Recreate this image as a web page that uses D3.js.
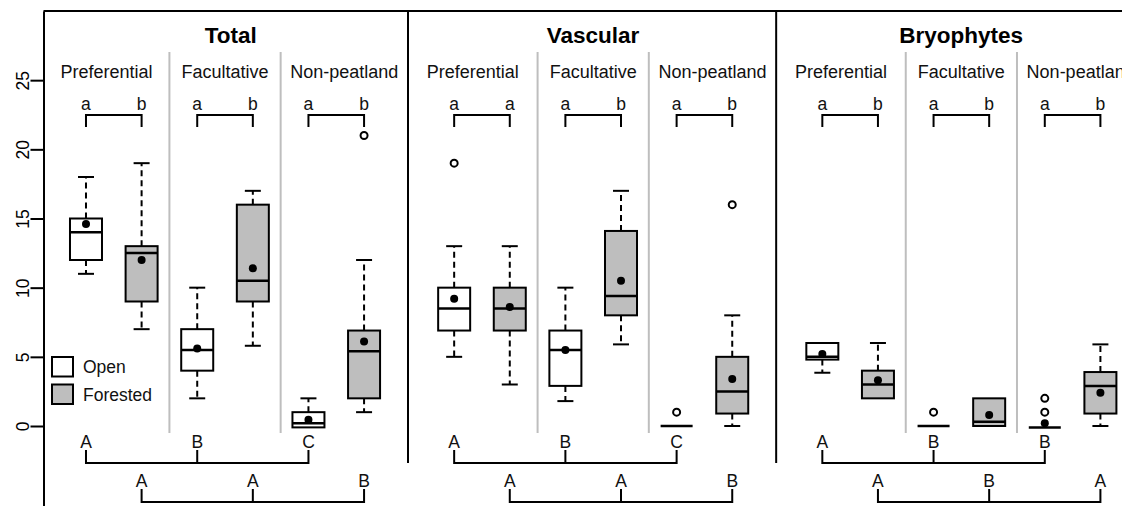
<!DOCTYPE html>
<html>
<head>
<meta charset="utf-8">
<script src="https://cdn.jsdelivr.net/npm/d3@7"></script>
<style>
body { margin: 0; background: #fff; }
svg { display: block; font-family: 'Liberation Sans', Arial, sans-serif; }
</style>
</head>
<body>
<svg id="chart"></svg>
<script>
var width = 1122;
var height = 506;

var panels = ['Total', 'Vascular', 'Bryophytes'];
var groups = ['Preferential', 'Facultative', 'Non-peatland'];
var habitats = ['Open', 'Forested'];
var yTicks = [0, 5, 10, 15, 20, 25];

// [lower whisker, q1, median, q3, upper whisker], boxes ordered open/forested per group
var statsTotal = [[11, 12, 14, 15, 18], [7, 9, 12.5, 13, 19],
	[2, 4, 5.5, 7, 10], [5.8, 9, 10.5, 16, 17],
	[-0.1, -0.1, 0.2, 1, 2], [1, 2, 5.4, 6.9, 12]];
var meansTotal = [14.6, 12, 5.6, 11.4, 0.45, 6.1];
var outliersTotal = [[], [], [], [], [], [21]];

var statsVascular = [[5, 6.9, 8.5, 10, 13], [3, 6.9, 8.5, 10, 13],
	[1.8, 2.9, 5.5, 6.9, 10], [5.9, 8, 9.4, 14.1, 17],
	[0, 0, 0, 0, 0], [0, 0.9, 2.5, 5, 8]];
var meansVascular = [9.2, 8.6, 5.5, 10.5, null, 3.4];
var outliersVascular = [[19], [], [], [], [1], [16]];

var statsBryo = [[3.85, 4.8, 5, 6, 6], [2, 2, 3, 4, 6],
	[0, 0, 0, 0, 0], [0, 0, 0.3, 2, 2],
	[-0.1, -0.1, -0.1, -0.1, -0.1], [0, 0.9, 2.9, 3.9, 5.9]];
var meansBryo = [5.2, 3.3, null, 0.8, 0.2, 2.4];
var outliersBryo = [[], [], [1], [], [1, 2], []];

// open vs forested within each group
var pairLetters = [['a', 'b', 'a', 'b', 'a', 'b'],
	['a', 'a', 'a', 'b', 'a', 'b'],
	['a', 'b', 'a', 'b', 'a', 'b']];
// among groups, open boxes and forested boxes
var openLetters = [['A', 'B', 'C'], ['A', 'B', 'C'], ['A', 'B', 'B']];
var forestLetters = [['A', 'A', 'B'], ['A', 'A', 'B'], ['A', 'B', 'A']];

var statsAll = [statsTotal, statsVascular, statsBryo];
var meansAll = [meansTotal, meansVascular, meansBryo];
var outliersAll = [outliersTotal, outliersVascular, outliersBryo];

var period = 6.62;
var boxW = 32;
var fills = ['#ffffff', '#bebebe'];
var fontSize = 17.5;
var labelSize = 18;

var svg = d3.select('#chart')
	.attr('width', width)
	.attr('height', height);

var x = d3.scaleLinear()
	.domain([0.236, 6.79])
	.range([43.5, 408]);

var y = d3.scaleLinear()
	.domain([-6, 30])
	.range([509, 11]);

var boxData = [];
panels.forEach(function(name, p) {
	statsAll[p].forEach(function(s, i) {
		boxData.push({panel: p, pos: p * period + i + 1, habitat: i % 2,
			lo: s[0], q1: s[1], med: s[2], q3: s[3], hi: s[4],
			mean: meansAll[p][i], out: outliersAll[p][i]});
	});
});

/****************************
 * frame, axis, separators
 ****************************/
svg.append('line')
	.attr('x1', x(0.236)).attr('x2', width)
	.attr('y1', y(30)).attr('y2', y(30))
	.attr('stroke', '#000').attr('stroke-width', 2);

var yAxis = d3.axisLeft(y)
	.tickValues(yTicks)
	.tickSize(13)
	.tickSizeOuter(0);

var gAxis = svg.append('g')
	.attr('transform', 'translate(' + x(0.236) + ',0)')
	.call(yAxis);

gAxis.select('.domain').attr('stroke-width', 2);
gAxis.selectAll('.tick line').attr('stroke-width', 2);
gAxis.selectAll('.tick text')
	.attr('transform', 'rotate(-90)')
	.attr('x', 0)
	.attr('y', -15)
	.attr('dy', 0)
	.style('text-anchor', 'middle')
	.style('font-size', fontSize + 'px')
	.style('font-family', "'Liberation Sans', Arial, sans-serif")
	.attr('fill', '#000');

var sepData = [1, 2];
svg.selectAll('.panelsep')
	.data(sepData)
	.enter().append('line')
	.attr('class', 'panelsep')
	.attr('x1', function(p) { return x((p - 1) * period + 6.79); })
	.attr('x2', function(p) { return x((p - 1) * period + 6.79); })
	.attr('y1', y(30))
	.attr('y2', 463)
	.attr('stroke', '#000')
	.attr('stroke-width', 2);

var grayData = [];
panels.forEach(function(name, p) {
	grayData.push(p * period + 2.5, p * period + 4.5);
});
svg.selectAll('.groupsep')
	.data(grayData)
	.enter().append('line')
	.attr('class', 'groupsep')
	.attr('x1', function(d) { return x(d); })
	.attr('x2', function(d) { return x(d); })
	.attr('y1', 52)
	.attr('y2', 433)
	.attr('stroke', '#bebebe')
	.attr('stroke-width', 2);

/****************************
 * titles and group labels
 ****************************/
function panelLeft(p) { return p === 0 ? x(0.236) : x((p - 1) * period + 6.79); }
function panelRight(p) { return x(p * period + 6.79); }

svg.selectAll('.title')
	.data(panels)
	.enter().append('text')
	.attr('class', 'title')
	.attr('x', function(d, p) { return (panelLeft(p) + Math.min(panelRight(p), 1146)) / 2 + (p === 0 ? 5 : 1); })
	.attr('y', 43)
	.attr('text-anchor', 'middle')
	.style('font-size', '22.5px')
	.style('font-weight', 'bold')
	.text(function(d) { return d; });

panels.forEach(function(name, p) {
	var edges = [panelLeft(p), x(p * period + 2.5), x(p * period + 4.5), panelRight(p)];
	svg.selectAll('.glabel' + p)
		.data(groups)
		.enter().append('text')
		.attr('x', function(d, g) { return (edges[g] + edges[g + 1]) / 2; })
		.attr('y', 78)
		.attr('text-anchor', 'middle')
		.attr('fill', '#111')
		.style('font-size', labelSize + 'px')
		.text(function(d) { return d; });

	// open vs forested letters
	svg.selectAll('.pletter' + p)
		.data(pairLetters[p])
		.enter().append('text')
		.attr('x', function(d, i) { return x(p * period + i + 1); })
		.attr('y', 110)
		.attr('text-anchor', 'middle')
		.attr('fill', '#111')
		.style('font-size', fontSize + 'px')
		.text(function(d) { return d; });

	groups.forEach(function(gname, g) {
		var xa = x(p * period + 2 * g + 1);
		var xb = x(p * period + 2 * g + 2);
		svg.append('path')
			.attr('d', 'M' + xa + ',127V115H' + xb + 'V127')
			.attr('fill', 'none')
			.attr('stroke', '#000')
			.attr('stroke-width', 2);
	});

	// among-group letters, open row then forested row
	var rows = [{letters: openLetters[p], off: 1, base: 448, top: 450, bar: 463},
		{letters: forestLetters[p], off: 2, base: 487, top: 489, bar: 502}];
	rows.forEach(function(r) {
		var xs = r.letters.map(function(d, g) { return x(p * period + 2 * g + r.off); });
		svg.selectAll(null)
			.data(r.letters)
			.enter().append('text')
			.attr('x', function(d, g) { return xs[g]; })
			.attr('y', r.base)
			.attr('text-anchor', 'middle')
			.attr('fill', '#111')
			.style('font-size', fontSize + 'px')
			.text(function(d) { return d; });
		svg.append('path')
			.attr('d', 'M' + xs[0] + ',' + r.top + 'V' + r.bar + 'H' + xs[2] + 'V' + r.top +
				'M' + xs[1] + ',' + r.top + 'V' + r.bar)
			.attr('fill', 'none')
			.attr('stroke', '#000')
			.attr('stroke-width', 2);
	});
});

/****************************
 * boxes
 ****************************/
var gBox = svg.append('g');

var whiskers = [];
boxData.forEach(function(d) {
	if (d.hi > d.q3) whiskers.push({pos: d.pos, a: d.q3, b: d.hi});
	if (d.lo < d.q1) whiskers.push({pos: d.pos, a: d.q1, b: d.lo});
});

gBox.selectAll('.whisker')
	.data(whiskers)
	.enter().append('line')
	.attr('class', 'whisker')
	.attr('x1', function(d) { return x(d.pos); })
	.attr('x2', function(d) { return x(d.pos); })
	.attr('y1', function(d) { return y(d.a); })
	.attr('y2', function(d) { return y(d.b); })
	.attr('stroke', '#000')
	.attr('stroke-width', 2)
	.attr('stroke-dasharray', '6,4');

gBox.selectAll('.cap')
	.data(whiskers)
	.enter().append('line')
	.attr('class', 'cap')
	.attr('x1', function(d) { return x(d.pos) - boxW / 4; })
	.attr('x2', function(d) { return x(d.pos) + boxW / 4; })
	.attr('y1', function(d) { return y(d.b); })
	.attr('y2', function(d) { return y(d.b); })
	.attr('stroke', '#000')
	.attr('stroke-width', 2);

gBox.selectAll('.box')
	.data(boxData.filter(function(d) { return d.q3 > d.q1; }))
	.enter().append('rect')
	.attr('class', 'box')
	.attr('x', function(d) { return x(d.pos) - boxW / 2; })
	.attr('y', function(d) { return y(d.q3); })
	.attr('width', boxW)
	.attr('height', function(d) { return y(d.q1) - y(d.q3); })
	.attr('fill', function(d) { return fills[d.habitat]; })
	.attr('stroke', '#000')
	.attr('stroke-width', 2);

gBox.selectAll('.median')
	.data(boxData)
	.enter().append('line')
	.attr('class', 'median')
	.attr('x1', function(d) { return x(d.pos) - boxW / 2; })
	.attr('x2', function(d) { return x(d.pos) + boxW / 2; })
	.attr('y1', function(d) { return y(d.med); })
	.attr('y2', function(d) { return y(d.med); })
	.attr('stroke', '#000')
	.attr('stroke-width', 2.5);

var outPts = [];
boxData.forEach(function(d) {
	d.out.forEach(function(v) { outPts.push({pos: d.pos, value: v}); });
});

gBox.selectAll('.outlier')
	.data(outPts)
	.enter().append('circle')
	.attr('class', 'outlier')
	.attr('cx', function(d) { return x(d.pos); })
	.attr('cy', function(d) { return y(d.value); })
	.attr('r', 3.5)
	.attr('fill', '#fff')
	.attr('stroke', '#000')
	.attr('stroke-width', 2);

gBox.selectAll('.mean')
	.data(boxData.filter(function(d) { return d.mean !== null; }))
	.enter().append('circle')
	.attr('class', 'mean')
	.attr('cx', function(d) { return x(d.pos); })
	.attr('cy', function(d) { return y(d.mean); })
	.attr('r', 4)
	.attr('fill', '#000');

/****************************
 * legend
 ****************************/
var gLegend = svg.append('g')
	.attr('transform', 'translate(52,357)');

gLegend.selectAll('rect')
	.data(habitats)
	.enter().append('rect')
	.attr('x', 0)
	.attr('y', function(d, i) { return i * 27.5; })
	.attr('width', 21)
	.attr('height', 19.5)
	.attr('fill', function(d, i) { return fills[i]; })
	.attr('stroke', '#000')
	.attr('stroke-width', 2);

gLegend.selectAll('text')
	.data(habitats)
	.enter().append('text')
	.attr('x', 31)
	.attr('y', function(d, i) { return i * 27.5 + 16; })
	.attr('fill', '#111')
	.style('font-size', fontSize + 'px')
	.text(function(d) { return d; });
</script>
</body>
</html>
